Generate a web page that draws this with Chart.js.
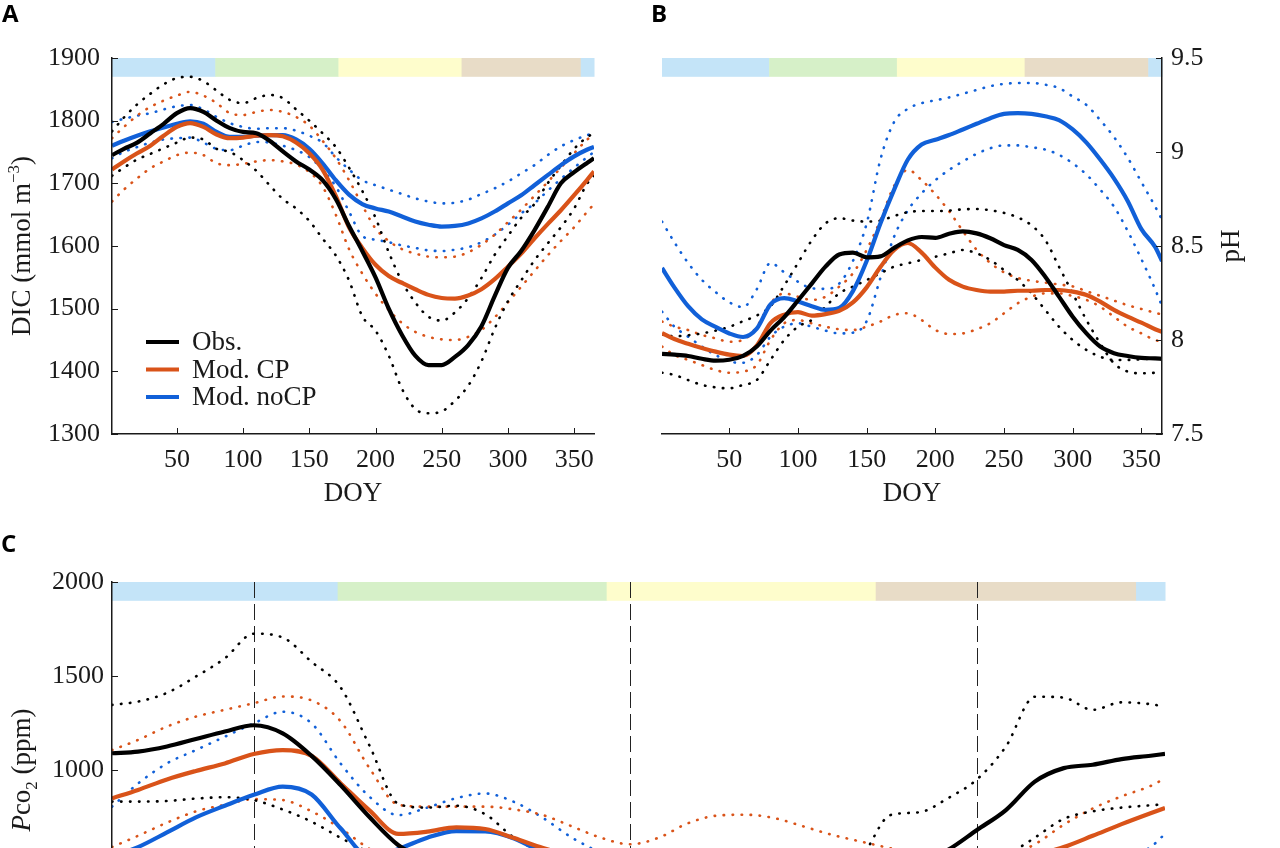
<!DOCTYPE html>
<html>
<head>
<meta charset="utf-8">
<script src="https://cdn.jsdelivr.net/npm/chart.js@4.4.0/dist/chart.umd.min.js"></script>
<style>
  body { margin: 0; width: 1280px; height: 848px; overflow: hidden; background: #fff; position: relative; }
  .panel { position: absolute; }
  .letter { position: absolute; font: bold 24px "Open Sans", "Liberation Sans", sans-serif; line-height: 24px; color: #000; z-index: 2; }
</style>
</head>
<body>
<div class="letter" style="left:2px;top:1px">A</div>
<div class="letter" style="left:651px;top:1px">B</div>
<div class="letter" style="left:1px;top:531px">C</div>
<div class="panel" style="left:0;top:0"><canvas id="chartA" width="640" height="530"></canvas></div>
<div class="panel" style="left:640px;top:0"><canvas id="chartB" width="640" height="530"></canvas></div>
<div class="panel" style="left:0;top:530px"><canvas id="chartC" width="1280" height="524"></canvas></div>
<script>
// day of year grid shared by every series
const doy = [1, 10, 20, 30, 40, 50, 60, 70, 80, 90, 100, 110, 120, 130, 140, 150, 160, 170, 180,
  190, 200, 210, 220, 230, 240, 250, 260, 270, 280, 290, 300, 310, 320, 330, 340, 350, 360, 365];
const xTicks = [50, 100, 150, 200, 250, 300, 350];

// seasons bar (winter, spring, summer, autumn, winter)
const seasonStart = [1, 79, 172, 265, 355];
const seasonEnd = [79, 172, 265, 355, 365];
const seasonColors = ['#c4e4f8', '#d6f0c8', '#fefdcc', '#e8dcc7', '#c4e4f8'];

// panel A - DIC
const dicTicks = [1300, 1400, 1500, 1600, 1700, 1800, 1900];
const dicObs = [1745, 1755, 1765, 1780, 1795, 1812, 1820, 1814, 1800, 1788, 1782, 1780, 1768, 1751, 1735, 1722, 1705, 1675, 1632,
  1592, 1550, 1500, 1458, 1425, 1410, 1410, 1423, 1442, 1472, 1520, 1565, 1592, 1625, 1662, 1700, 1718, 1733, 1740];
const dicObsHi = [1783, 1805, 1826, 1843, 1858, 1868, 1870, 1863, 1848, 1833, 1828, 1836, 1841, 1836, 1818, 1800, 1780, 1758, 1725,
  1688, 1645, 1590, 1543, 1510, 1487, 1481, 1494, 1517, 1549, 1586, 1616, 1645, 1667, 1700, 1728, 1755, 1774, 1780];
const dicObsLo = [1712, 1725, 1738, 1747, 1756, 1765, 1773, 1770, 1755, 1750, 1737, 1720, 1697, 1675, 1660, 1640, 1612, 1585, 1545,
  1488, 1465, 1425, 1372, 1340, 1333, 1336, 1353, 1377, 1416, 1468, 1512, 1545, 1577, 1604, 1630, 1660, 1700, 1712];
const dicCP = [1722, 1735, 1748, 1760, 1776, 1790, 1796, 1790, 1778, 1772, 1773, 1776, 1777, 1775, 1765, 1748, 1722, 1680, 1630,
  1597, 1570, 1552, 1541, 1531, 1522, 1517, 1516, 1521, 1531, 1547, 1567, 1588, 1612, 1635, 1657, 1681, 1706, 1719];
const dicCPHi = [1772, 1790, 1808, 1822, 1832, 1840, 1846, 1840, 1828, 1812, 1809, 1814, 1817, 1814, 1806, 1792, 1768, 1740, 1705,
  1665, 1628, 1608, 1595, 1588, 1583, 1582, 1583, 1590, 1602, 1618, 1638, 1658, 1680, 1702, 1725, 1748, 1770, 1778];
const dicCPLo = [1671, 1690, 1708, 1724, 1735, 1745, 1749, 1745, 1732, 1729, 1731, 1735, 1737, 1735, 1730, 1718, 1695, 1650, 1595,
  1556, 1524, 1498, 1477, 1463, 1455, 1451, 1450, 1455, 1466, 1486, 1510, 1535, 1560, 1585, 1608, 1630, 1655, 1667];
const dicNoCP = [1760, 1768, 1776, 1783, 1789, 1795, 1799, 1795, 1782, 1774, 1774, 1776, 1777, 1777, 1770, 1755, 1732, 1705, 1682,
  1667, 1660, 1655, 1647, 1639, 1634, 1631, 1632, 1636, 1644, 1655, 1668, 1681, 1697, 1713, 1729, 1743, 1754, 1758];
const dicNoCPHi = [1798, 1803, 1808, 1812, 1818, 1823, 1825, 1818, 1806, 1796, 1790, 1787, 1788, 1788, 1784, 1776, 1765, 1742, 1722,
  1705, 1697, 1690, 1683, 1676, 1671, 1668, 1669, 1674, 1683, 1692, 1703, 1716, 1729, 1745, 1759, 1769, 1777, 1780];
const dicNoCPLo = [1740, 1750, 1758, 1765, 1770, 1772, 1773, 1765, 1755, 1753, 1760, 1766, 1765, 1760, 1753, 1742, 1722, 1695, 1655,
  1616, 1610, 1606, 1601, 1597, 1593, 1592, 1594, 1598, 1606, 1618, 1634, 1652, 1668, 1688, 1707, 1725, 1742, 1750];

// panel B - pH
const phTicks = [7.5, 8, 8.5, 9, 9.5];
const phObs = [7.926, 7.922, 7.915, 7.9, 7.89, 7.895, 7.915, 7.965, 8.05, 8.122, 8.21, 8.3, 8.39, 8.455, 8.465, 8.44, 8.445, 8.49, 8.53,
  8.548, 8.543, 8.565, 8.578, 8.567, 8.541, 8.505, 8.479, 8.426, 8.337, 8.231, 8.124, 8.035, 7.965, 7.93, 7.915, 7.905, 7.902, 7.9];
const phObsHi = [8.03, 8.02, 8.025, 8.035, 8.05, 8.07, 8.1, 8.13, 8.18, 8.29, 8.41, 8.53, 8.62, 8.648, 8.635, 8.63, 8.635, 8.66, 8.68,
  8.686, 8.686, 8.688, 8.695, 8.697, 8.69, 8.676, 8.652, 8.61, 8.532, 8.39, 8.248, 8.106, 7.982, 7.876, 7.832, 7.823, 7.826, 7.832];
const phObsLo = [7.826, 7.814, 7.787, 7.761, 7.748, 7.743, 7.761, 7.787, 7.894, 8.0, 8.071, 8.106, 8.177, 8.248, 8.284, 8.319, 8.355, 8.39, 8.408,
  8.426, 8.443, 8.461, 8.479, 8.461, 8.426, 8.372, 8.319, 8.248, 8.16, 8.071, 8.0, 7.947, 7.911, 7.894, 7.894, 7.897, 7.902, 7.902];
const phCP = [8.037, 8.005, 7.98, 7.958, 7.938, 7.922, 7.915, 7.97, 8.09, 8.135, 8.148, 8.13, 8.138, 8.155, 8.2, 8.28, 8.388, 8.479, 8.516,
  8.465, 8.385, 8.32, 8.284, 8.266, 8.257, 8.257, 8.262, 8.262, 8.266, 8.266, 8.257, 8.239, 8.204, 8.16, 8.124, 8.092, 8.057, 8.044];
const phCPHi = [8.098, 8.071, 8.053, 8.027, 8.009, 7.991, 8.0, 8.071, 8.195, 8.248, 8.23, 8.213, 8.23, 8.284, 8.355, 8.479, 8.638, 8.82, 8.905,
  8.85, 8.775, 8.685, 8.58, 8.48, 8.41, 8.36, 8.33, 8.315, 8.305, 8.295, 8.285, 8.26, 8.235, 8.21, 8.185, 8.165, 8.145, 8.135];
const phCPLo = [7.965, 7.92, 7.894, 7.867, 7.84, 7.826, 7.832, 7.867, 8.0, 8.089, 8.106, 8.089, 8.071, 8.057, 8.053, 8.071, 8.098, 8.133, 8.142,
  8.106, 8.053, 8.032, 8.035, 8.057, 8.089, 8.142, 8.195, 8.23, 8.248, 8.248, 8.234, 8.213, 8.177, 8.124, 8.071, 8.035, 8.0, 7.991];
const phNoCP = [8.383, 8.28, 8.18, 8.11, 8.07, 8.035, 8.016, 8.06, 8.19, 8.223, 8.205, 8.18, 8.16, 8.17, 8.26, 8.42, 8.62, 8.8, 8.96,
  9.04, 9.065, 9.09, 9.12, 9.15, 9.18, 9.203, 9.207, 9.203, 9.19, 9.17, 9.12, 9.05, 8.96, 8.86, 8.74, 8.59, 8.495, 8.42];
const phNoCPHi = [8.63, 8.52, 8.41, 8.32, 8.255, 8.2, 8.175, 8.27, 8.41, 8.36, 8.31, 8.275, 8.272, 8.3, 8.42, 8.62, 8.96, 9.16, 9.23,
  9.26, 9.275, 9.29, 9.31, 9.33, 9.35, 9.362, 9.367, 9.367, 9.358, 9.34, 9.295, 9.25, 9.17, 9.08, 8.97, 8.84, 8.71, 8.64];
const phNoCPLo = [8.151, 8.071, 8.018, 7.965, 7.92, 7.885, 7.879, 7.92, 8.018, 8.071, 8.089, 8.071, 8.05, 8.035, 8.039, 8.1, 8.33, 8.55, 8.69,
  8.78, 8.85, 8.905, 8.95, 8.99, 9.02, 9.035, 9.035, 9.025, 9.013, 8.985, 8.94, 8.88, 8.8, 8.71, 8.58, 8.43, 8.27, 8.18];

// panel C - pCO2
const pco2Ticks = [0, 500, 1000, 1500, 2000];
const stationDoy = [50, 180, 300];
const pco2Obs = [1089, 1098, 1125, 1165, 1205, 1238, 1195, 1075, 920, 750, 600, 520, 460, 420, 390, 360, 330, 300, 280,
  270, 260, 250, 250, 260, 280, 310, 350, 420, 500, 575, 681, 787, 938, 1010, 1028, 1058, 1076, 1086];
const pco2ObsHi = [1346, 1364, 1410, 1497, 1594, 1725, 1705, 1575, 1440, 1130, 820, 800, 810, 765, 640, 560, 500, 450, 420,
  400, 390, 390, 400, 420, 450, 490, 540, 760, 775, 850, 950, 1125, 1390, 1385, 1320, 1360, 1350, 1337];
const pco2ObsLo = [832, 832, 835, 848, 855, 840, 790, 725, 640, 560, 490, 430, 390, 360, 330, 300, 280, 260, 240,
  230, 220, 210, 210, 215, 225, 240, 260, 290, 330, 380, 440, 540, 640, 740, 780, 800, 812, 818];
const pco2CP = [849, 894, 950, 995, 1035, 1085, 1106, 1075, 930, 785, 660, 672, 695, 686, 638, 585, 540, 500, 460,
  430, 400, 380, 360, 350, 340, 340, 345, 355, 370, 400, 440, 490, 545, 590, 650, 712, 770, 798];
const pco2CPHi = [1106, 1160, 1231, 1284, 1320, 1355, 1391, 1370, 1260, 1010, 815, 805, 805, 805, 790, 760, 700, 640, 605,
  640, 716, 757, 762, 744, 700, 655, 619, 584, 550, 525, 510, 540, 605, 709, 795, 860, 915, 955];
const pco2CPLo = [590, 650, 720, 780, 815, 845, 840, 780, 690, 580, 500, 450, 410, 380, 360, 340, 330, 320, 310,
  300, 290, 280, 280, 280, 290, 300, 310, 330, 350, 380, 410, 440, 460, 480, 510, 540, 570, 585];
const pco2NoCP = [540, 590, 668, 748, 810, 868, 912, 870, 690, 540, 580, 640, 675, 674, 636, 560, 500, 450, 400,
  370, 350, 330, 320, 310, 300, 300, 300, 305, 310, 320, 340, 360, 390, 420, 450, 480, 510, 525];
const pco2NoCPHi = [805, 928, 1035, 1106, 1177, 1248, 1310, 1248, 1035, 858, 760, 800, 850, 875, 830, 745, 640, 560, 500,
  460, 430, 410, 400, 400, 400, 410, 420, 430, 440, 450, 460, 470, 480, 480, 470, 520, 590, 660];
const pco2NoCPLo = [400, 430, 470, 510, 540, 570, 575, 550, 480, 400, 380, 390, 400, 400, 380, 350, 320, 290, 270,
  250, 240, 230, 220, 220, 220, 230, 240, 250, 260, 280, 300, 320, 340, 360, 380, 400, 420, 430];

const SERIF = '"Liberation Serif", "Times New Roman", serif';
const INK = '#1a1a1a';
const colObs = '#000000';
const colCP = '#d95319';
const colNoCP = '#1160d8';

function pts(values) {
  return values.map((v, i) => ({ x: doy[i], y: v }));
}
function solid(label, values, color) {
  return { label, inLegend: true, data: pts(values), borderColor: color, borderWidth: 4.2,
    pointRadius: 0, cubicInterpolationMode: 'monotone', fill: false };
}
function dotted(values, color) {
  return { label: '', data: pts(values), borderColor: color, borderWidth: 2.6,
    borderDash: [0.5, 8.5], borderCapStyle: 'round', pointRadius: 0,
    cubicInterpolationMode: 'monotone', fill: false };
}

// season bar, dashed lines, inward ticks, rich y titles and the legend
const decorPlugin = {
  id: 'decor',
  beforeDatasetsDraw(chart, args, opts) {
    const { ctx, scales: { x, y } } = chart;
    const yTop = y.getPixelForValue(opts.barTop);
    const yBot = y.getPixelForValue(opts.barBottom);
    ctx.save();
    seasonStart.forEach((s, i) => {
      const x0 = x.getPixelForValue(s);
      const x1 = x.getPixelForValue(seasonEnd[i]);
      ctx.fillStyle = seasonColors[i];
      ctx.fillRect(x0, yTop, x1 - x0 + 0.5, yBot - yTop);
    });
    if (opts.dashed) {
      const area = chart.chartArea;
      ctx.strokeStyle = '#222';
      ctx.lineWidth = 1;
      ctx.setLineDash([16, 6]);
      opts.dashed.forEach(d => {
        const px = Math.round(x.getPixelForValue(d)) + 0.5;
        ctx.beginPath();
        ctx.moveTo(px, area.top);
        ctx.lineTo(px, area.bottom);
        ctx.stroke();
      });
    }
    ctx.restore();
  },
  afterDraw(chart, args, opts) {
    const { ctx, chartArea: area, scales: { x, y } } = chart;
    ctx.save();
    // inward tick marks
    ctx.strokeStyle = INK;
    ctx.lineWidth = 1;
    ctx.beginPath();
    x.ticks.forEach(t => {
      const px = Math.round(x.getPixelForValue(t.value)) + 0.5;
      ctx.moveTo(px, area.bottom);
      ctx.lineTo(px, area.bottom - 6);
    });
    const x0 = opts.yRight ? area.right : area.left;
    const dir = opts.yRight ? -1 : 1;
    y.ticks.forEach(t => {
      const py = Math.round(y.getPixelForValue(t.value)) + 0.5;
      ctx.moveTo(x0, py);
      ctx.lineTo(x0 + dir * 6, py);
    });
    ctx.stroke();

    // rotated y title made of styled pieces
    const t = opts.yTitle;
    ctx.translate(t.x, (area.top + area.bottom) / 2);
    ctx.rotate(-Math.PI / 2);
    ctx.fillStyle = INK;
    ctx.textBaseline = 'alphabetic';
    const fontOf = p => (p.italic ? 'italic ' : '') + (p.size || 27) + 'px ' + SERIF;
    let total = 0;
    const parts = t.parts.map(p => {
      ctx.font = fontOf(p);
      const w = ctx.measureText(p.text).width;
      total += w;
      return Object.assign({ w }, p);
    });
    let u = -total / 2;
    parts.forEach(p => {
      ctx.font = fontOf(p);
      ctx.fillText(p.text, u, 9 + (p.dy || 0));
      u += p.w;
    });
    ctx.restore();

    // legend inside the plot
    if (opts.legend) {
      const L = opts.legend;
      ctx.save();
      ctx.font = '27px ' + SERIF;
      ctx.textBaseline = 'middle';
      ctx.fillStyle = INK;
      chart.data.datasets.filter(d => d.inLegend).forEach((d, i) => {
        const ly = area.top + L.top + i * L.step;
        ctx.strokeStyle = d.borderColor;
        ctx.lineWidth = 4;
        ctx.beginPath();
        ctx.moveTo(area.left + L.x0, ly);
        ctx.lineTo(area.left + L.x1, ly);
        ctx.stroke();
        ctx.fillText(d.label, area.left + L.tx, ly + 1);
      });
      ctx.restore();
    }
  }
};

function makeChart(id, cfg) {
  const datasets = [
    solid('Obs.', cfg.obs, colObs),
    solid('Mod. CP', cfg.cp, colCP),
    solid('Mod. noCP', cfg.nocp, colNoCP),
    dotted(cfg.obsHi, colObs), dotted(cfg.obsLo, colObs),
    dotted(cfg.cpHi, colCP), dotted(cfg.cpLo, colCP),
    dotted(cfg.nocpHi, colNoCP), dotted(cfg.nocpLo, colNoCP)
  ];
  return new Chart(document.getElementById(id), {
    type: 'line',
    data: { datasets },
    options: {
      responsive: false,
      animation: false,
      layout: { padding: cfg.padding },
      plugins: {
        legend: { display: false },
        tooltip: { enabled: false },
        decor: cfg.decor
      },
      scales: {
        x: {
          type: 'linear', min: 1, max: 365,
          afterBuildTicks: s => { s.ticks = xTicks.map(v => ({ value: v })); },
          afterFit: s => { s.height = 96; },
          grid: { display: false, drawTicks: false },
          border: { display: true, color: INK, width: 1.5, z: 1 },
          ticks: { font: { family: SERIF, size: 26 }, color: INK, padding: 11, maxRotation: 0, autoSkip: false },
          title: { display: true, text: 'DOY', color: INK, font: { family: SERIF, size: 27 }, padding: { top: 0, bottom: 20 } }
        },
        y: {
          type: 'linear', position: cfg.yPos, min: cfg.yMin, max: cfg.yMax,
          afterBuildTicks: s => { s.ticks = cfg.yTicks.map(v => ({ value: v })); },
          afterFit: s => { s.width = cfg.yWidth; },
          grid: { display: false, drawTicks: false },
          border: { display: true, color: INK, width: 1.5, z: 1 },
          ticks: { font: { family: SERIF, size: 26 }, color: INK, padding: cfg.yPad, autoSkip: false,
            callback: v => String(v) }
        }
      }
    },
    plugins: [decorPlugin]
  });
}

makeChart('chartA', {
  obs: dicObs, obsHi: dicObsHi, obsLo: dicObsLo,
  cp: dicCP, cpHi: dicCPHi, cpLo: dicCPLo,
  nocp: dicNoCP, nocpHi: dicNoCPHi, nocpLo: dicNoCPLo,
  yMin: 1300, yMax: 1900, yTicks: dicTicks, yPos: 'left', yWidth: 112, yPad: 12,
  padding: { left: 0, top: 58, right: 46, bottom: 0 },
  decor: {
    barTop: 1900, barBottom: 1870,
    yTitle: { x: 21, parts: [{ text: 'DIC (mmol m' }, { text: '\u22123', size: 17, dy: -11 }, { text: ')' }] },
    legend: { x0: 34, x1: 67, tx: 80, top: 284, step: 27.5 }
  }
});

makeChart('chartB', {
  obs: phObs, obsHi: phObsHi, obsLo: phObsLo,
  cp: phCP, cpHi: phCPHi, cpLo: phCPLo,
  nocp: phNoCP, nocpHi: phNoCPHi, nocpLo: phNoCPLo,
  yMin: 7.5, yMax: 9.5, yTicks: phTicks, yPos: 'right', yWidth: 118, yPad: 9,
  padding: { left: 22, top: 58, right: 0, bottom: 0 },
  decor: {
    barTop: 9.5, barBottom: 9.4, yRight: true,
    yTitle: { x: 590, parts: [{ text: 'pH' }] }
  }
});

makeChart('chartC', {
  obs: pco2Obs, obsHi: pco2ObsHi, obsLo: pco2ObsLo,
  cp: pco2CP, cpHi: pco2CPHi, cpLo: pco2CPLo,
  nocp: pco2NoCP, nocpHi: pco2NoCPHi, nocpLo: pco2NoCPLo,
  yMin: 0, yMax: 2000, yTicks: pco2Ticks, yPos: 'left', yWidth: 112, yPad: 8,
  padding: { left: 0, top: 52, right: 115, bottom: 0 },
  decor: {
    barTop: 2000, barBottom: 1900, dashed: stationDoy,
    yTitle: { x: 21, parts: [{ text: 'P', italic: true }, { text: 'co' }, { text: '2', size: 17, dy: 7 }, { text: ' (ppm)' }] }
  }
});
</script>
</body>
</html>
